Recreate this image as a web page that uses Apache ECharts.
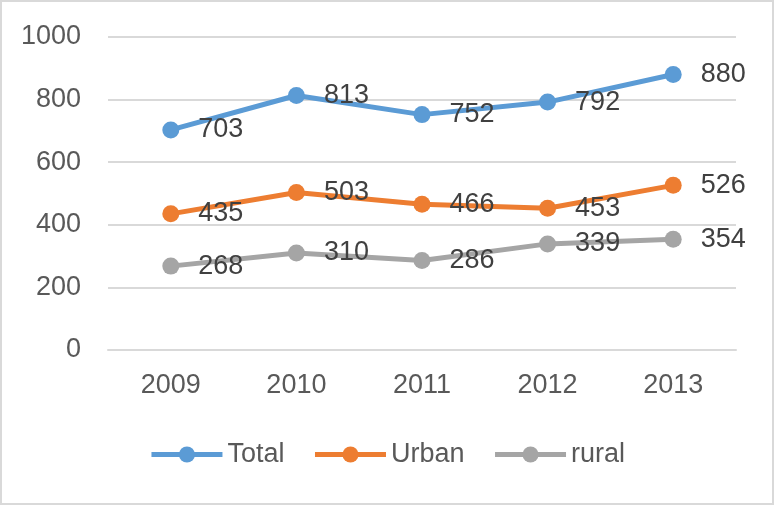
<!DOCTYPE html>
<html>
<head>
<meta charset="utf-8">
<script src="https://cdn.jsdelivr.net/npm/echarts@6/dist/echarts.min.js"></script>
<style>
html,body{margin:0;padding:0;background:#fff;}
#c{width:774px;height:505px;box-sizing:border-box;border:2px solid #d9d9d9;}
</style>
</head>
<body>
<div id="c"></div>
<script>
const categories = ['2009', '2010', '2011', '2012', '2013'];
const totalValues = [703, 813, 752, 792, 880];
const urbanValues = [435, 503, 466, 453, 526];
const ruralValues = [268, 310, 286, 339, 354];
const yTicks = [0, 200, 400, 600, 800, 1000];

const FONT = 'Liberation Sans';
const chart = echarts.init(document.getElementById('c'));
function mk(name, data, color) {
  return {
    name: name, type: 'line', data: data,
    symbol: 'circle', symbolSize: 17,
    itemStyle: { color: color },
    lineStyle: { color: color, width: 5 },
    label: { show: true, position: 'right', distance: 19, color: '#404040', fontSize: 27, fontFamily: FONT },
    emphasis: { disabled: true },
    animation: false
  };
}
chart.setOption({
  animation: false,
  grid: { left: 106, right: 36, top: 35, bottom: 153 },
  legend: {
    bottom: 30, left: 'center', itemWidth: 71, itemHeight: 20, itemGap: 28,
    lineStyle: { width: 5 },
    textStyle: { color: '#595959', fontSize: 27, fontFamily: FONT },
    data: ['Total', 'Urban', 'rural']
  },
  xAxis: {
    type: 'category', data: categories, boundaryGap: true,
    axisLine: { lineStyle: { color: '#d9d9d9', width: 2 } },
    axisTick: { show: false },
    axisLabel: { color: '#595959', fontSize: 27, fontFamily: FONT, margin: 22 }
  },
  yAxis: {
    type: 'value', min: yTicks[0], max: yTicks[yTicks.length - 1], interval: 200,
    axisLine: { show: false }, axisTick: { show: false },
    splitLine: { lineStyle: { color: '#d9d9d9', width: 2 } },
    axisLabel: { color: '#595959', fontSize: 27, fontFamily: FONT, margin: 27, formatter: v => String(v) }
  },
  series: [
    mk('Total', totalValues, '#5b9bd5'),
    mk('Urban', urbanValues, '#ed7d31'),
    mk('rural', ruralValues, '#a5a5a5')
  ]
});
</script>
</body>
</html>
